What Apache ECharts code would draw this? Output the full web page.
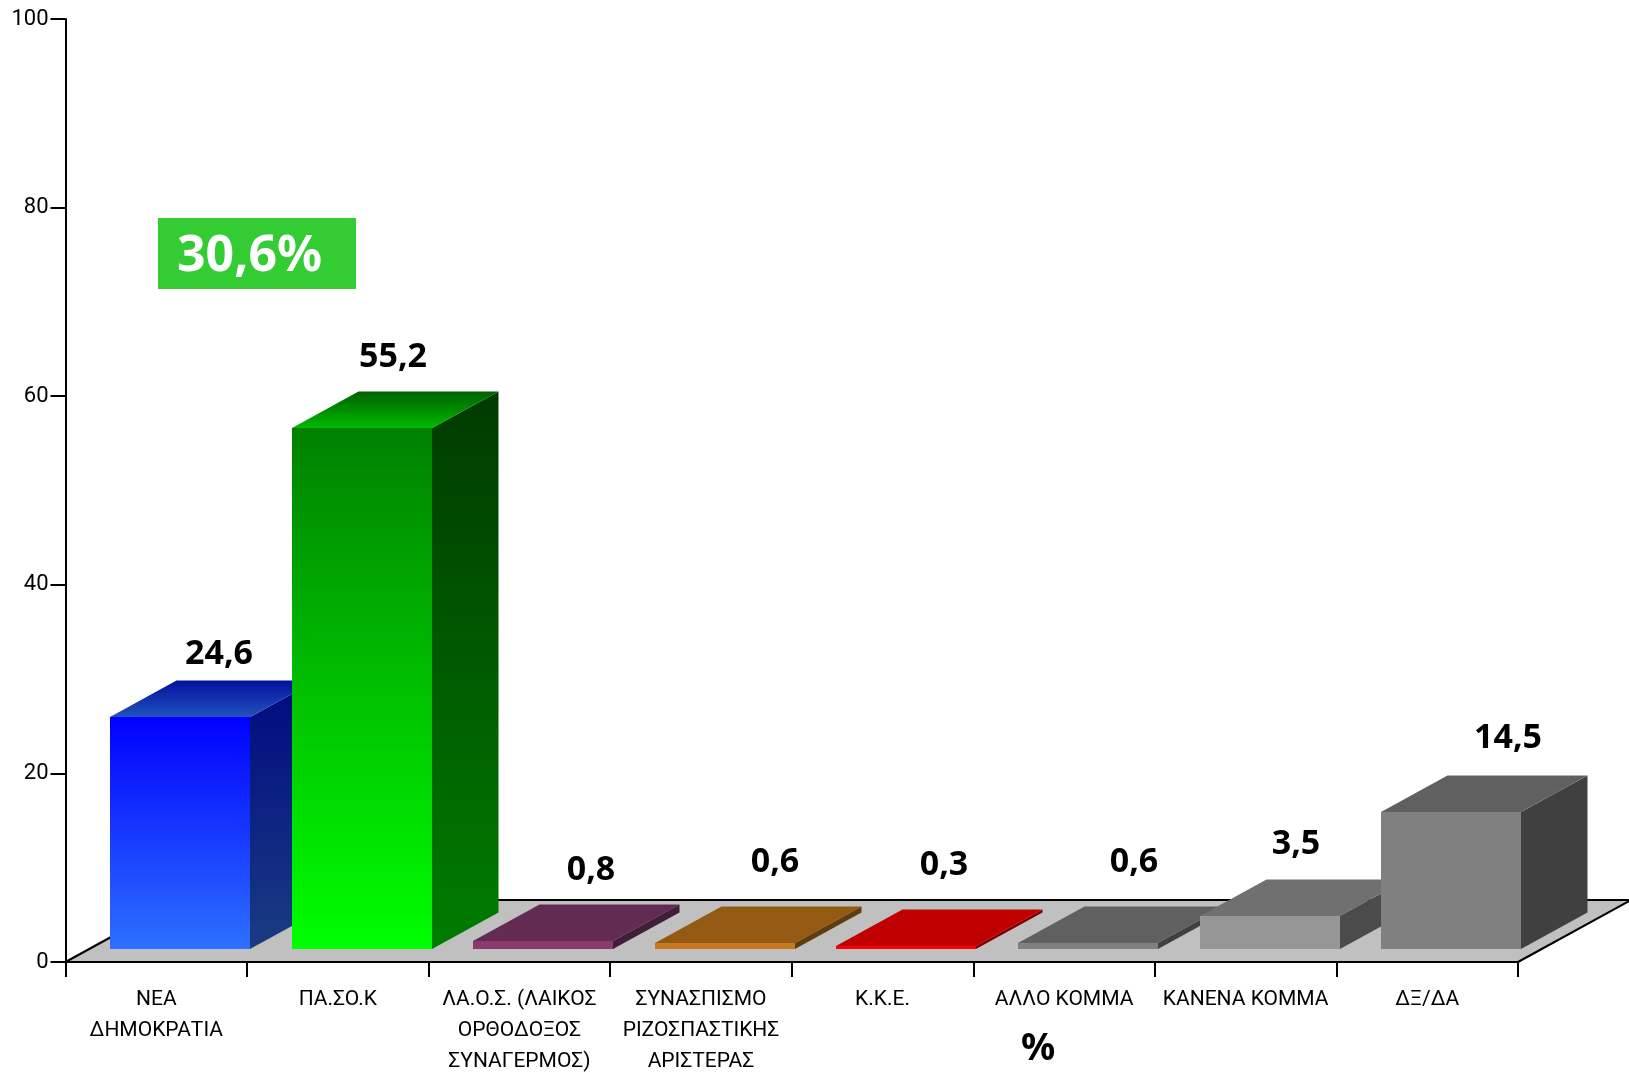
<!DOCTYPE html>
<html><head><meta charset="utf-8">
<style>html,body{margin:0;padding:0;background:#fff}#c{width:1629px;height:1074px}</style>
<script src="https://cdn.jsdelivr.net/npm/echarts@6/dist/echarts.min.js"></script>
</head><body><div id="c"></div>
<script>
const categories = ['ΝΕΑ\nΔΗΜΟΚΡΑΤΙΑ','ΠΑ.ΣΟ.Κ','ΛΑ.Ο.Σ. (ΛΑΙΚΟΣ\nΟΡΘΟΔΟΞΟΣ\nΣΥΝΑΓΕΡΜΟΣ)','ΣΥΝΑΣΠΙΣΜΟ\nΡΙΖΟΣΠΑΣΤΙΚΗΣ\nΑΡΙΣΤΕΡΑΣ','Κ.Κ.Ε.','ΑΛΛΟ ΚΟΜΜΑ','ΚΑΝΕΝΑ ΚΟΜΜΑ','ΔΞ/ΔΑ'];
const values = [24.6,55.2,0.8,0.6,0.3,0.6,3.5,14.5];
const yTicks = [0,20,40,60,80,100];

// [front top, front bottom, side top, side bottom, top back, top front]
const shades = [
 ['#0000ff','#2e70ff','#000a80','#1a3c82','#0410a0','#2152bd'],
 ['#008000','#00ff00','#003a00','#007c00','#006000','#00ba00'],
 ['#8b3a6d','#8b3a6d','#3f1f38','#3f1f38','#632b52','#632b52'],
 ['#c8781e','#c8781e','#5e3d10','#5e3d10','#945a14','#945a14'],
 ['#ff0000','#ff0000','#800000','#800000','#c00000','#c00000'],
 ['#808080','#808080','#404040','#404040','#606060','#606060'],
 ['#969696','#969696','#4b4b4b','#4b4b4b','#707070','#707070'],
 ['#808080','#808080','#404040','#404040','#606060','#606060']
];
// hand-placed value labels: shift from the bar's front-top centre
const labelNudge = [[39,-63],[31,-71],[48,-71],[50,-81],[38,-81],[46,-81],[26,-72],[57,-74]];

const FLOOR_DX = 113, FLOOR_DY = 62;
const DEPTH_DX = 66.5, DEPTH_DY = 36.5;
const BAR_LIFT = 13, BAR_SHIFT = 24, BAR_RATIO = 0.772;
const AXIS_FONT = 'Roboto, "Noto Sans", sans-serif';
const BOLD_FONT = '"Noto Sans", sans-serif';

const grad = (a,b) => ({type:'linear',x:0,y:0,x2:0,y2:1,colorStops:[{offset:0,color:a},{offset:1,color:b}]});
const poly = (points,fill,z2) => ({type:'polygon',z2:z2||0,shape:{points},style:{fill},silent:true});

function renderFloor(params, api){
  const c = params.coordSys, x0 = c.x, x1 = c.x + c.width, y = c.y + c.height;
  const back = [[x0+FLOOR_DX,y-FLOOR_DY],[x1+FLOOR_DX,y-FLOOR_DY]];
  const ln = (a,b) => ({type:'line',shape:{x1:a[0],y1:a[1],x2:b[0],y2:b[1]},style:{stroke:'#000',lineWidth:2}});
  return {type:'group',children:[
    poly([[x0,y],[x1,y],back[1],back[0]],'#c0c0c0'),
    ln(back[0],back[1]), ln([x0,y],back[0]), ln([x1,y],back[1])
  ]};
}

function renderBar(params, api){
  const i = api.value(0), v = api.value(1), s = shades[i];
  const base = api.coord([i,0]), top = api.coord([i,v]);
  const w = api.size([1,0])[0]*BAR_RATIO;
  const l = Math.round(base[0]+BAR_SHIFT-w/2), r = Math.round(l+w), b = Math.round(base[1]-BAR_LIFT), t = Math.round(top[1]-BAR_LIFT);
  const n = labelNudge[i];
  return {type:'group',children:[
    poly([[r,b],[r+DEPTH_DX,b-DEPTH_DY],[r+DEPTH_DX,t-DEPTH_DY],[r,t]],grad(s[2],s[3])),
    poly([[l,t],[r,t],[r+DEPTH_DX,t-DEPTH_DY],[l+DEPTH_DX,t-DEPTH_DY]],grad(s[4],s[5])),
    poly([[l,b],[r,b],[r,t],[l,t]],grad(s[0],s[1])),
    {type:'text',z2:5,x:(l+r)/2+n[0],y:t+n[1],style:{text:String(v).replace('.',','),fill:'#000',
      font:'bold 34px '+BOLD_FONT,textAlign:'center',textVerticalAlign:'middle'}}
  ]};
}

const chart = echarts.init(document.getElementById('c'),null,{renderer:'canvas'});
chart.setOption({
  animation:false,
  backgroundColor:'#fff',
  grid:{left:65.5,right:111,top:19,bottom:112,outerBoundsMode:'none'},
  xAxis:{type:'category',data:categories,z:5,boundaryGap:true,
    axisLine:{onZero:false,lineStyle:{color:'#000',width:2}},
    axisTick:{show:true,alignWithLabel:false,interval:0,length:15,lineStyle:{color:'#000',width:2}},
    axisLabel:{interval:0,color:'#000',fontFamily:AXIS_FONT,fontSize:21,lineHeight:31,margin:22,hideOverlap:false},
    splitLine:{show:false}},
  yAxis:{type:'value',min:0,max:100,interval:yTicks[1]-yTicks[0],z:5,
    axisLine:{show:true,lineStyle:{color:'#000',width:2}},
    axisTick:{show:true,length:15,lineStyle:{color:'#000',width:2}},
    axisLabel:{color:'#000',fontFamily:AXIS_FONT,fontSize:22,margin:17},
    splitLine:{show:false}},
  series:[
    {type:'custom',z:1,clip:false,renderItem:renderFloor,data:[[0,0]],silent:true},
    {type:'custom',z:2,clip:false,renderItem:renderBar,encode:{x:0,y:1},silent:true,
      data:values.map((v,i)=>[i,v])}
  ],
  graphic:[
    {type:'rect',left:158,top:218,shape:{width:198,height:71},style:{fill:'#33cc33'},z:10},
    {type:'text',left:177,top:232,style:{text:'30,6%',fill:'#fff',font:'bold 50px '+BOLD_FONT},z:11},
    {type:'text',left:1021,top:1030,style:{text:'%',fill:'#000',font:'bold 38px '+BOLD_FONT},z:11}
  ]
});
</script></body></html>
